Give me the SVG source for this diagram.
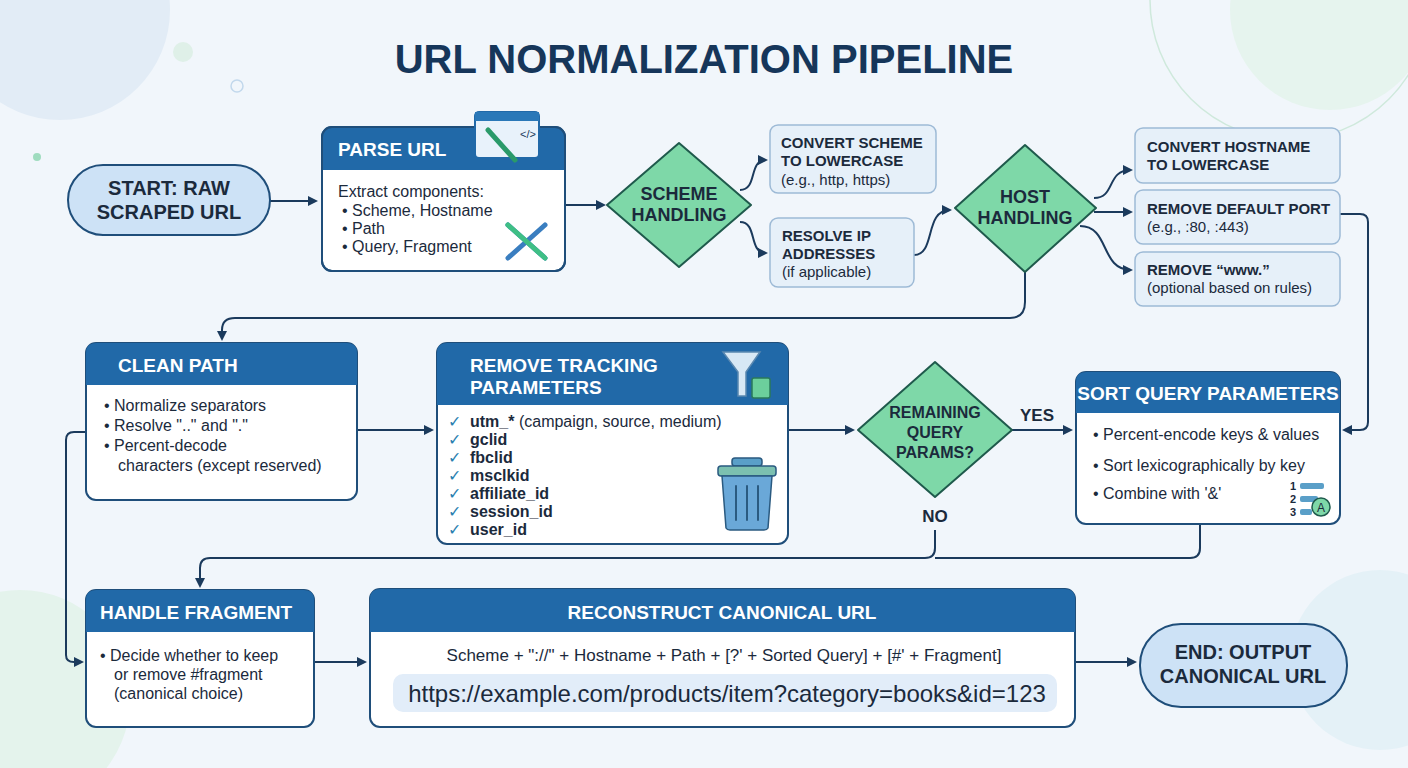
<svg xmlns="http://www.w3.org/2000/svg" width="1408" height="768" viewBox="0 0 1408 768">
<defs>
<marker id="ah" markerWidth="10" markerHeight="10" refX="8" refY="5" orient="auto" markerUnits="userSpaceOnUse"><path d="M0,0 L10,5 L0,10 Z" fill="#1b3a5c"/></marker>
<style>
text{font-family:"Liberation Sans",Arial,sans-serif;fill:#1b2a3c}
.b{font-weight:bold}
.hd{font-weight:bold;fill:#fff;font-size:19px}
.bd{font-size:16px}
.card{fill:#fff;stroke:#1f4e7a;stroke-width:2}
.head{fill:#2169a8}
.sub{fill:#e6f0f9;stroke:#9dbad6;stroke-width:1.5}
.dia{fill:#7ed8a8;stroke:#1f5a4c;stroke-width:2}
.pill{fill:#cde2f6;stroke:#1f4e7a;stroke-width:2}
.c{fill:none;stroke:#1b3a5c;stroke-width:2}
.ck{fill:#2a7fb0;font-size:16px}
.t{font-weight:bold;font-size:15px;fill:#1b2a3c}
</style>
</defs>
<rect width="1408" height="768" fill="#f1f6fb"/>
<circle cx="60" cy="10" r="110" fill="#e2ecf6"/>
<circle cx="1330" cy="10" r="100" fill="#e6f4ee"/>
<circle cx="1290" cy="0" r="140" fill="none" stroke="#cfe9dc" stroke-width="1.5"/>
<circle cx="20" cy="700" r="110" fill="#e4f3ec"/>
<circle cx="1380" cy="660" r="90" fill="#e4f1f7"/>
<circle cx="183" cy="52" r="10" fill="#dff0e8"/>
<circle cx="237" cy="86" r="6" fill="none" stroke="#c2d8ec" stroke-width="1.5"/>
<circle cx="37" cy="157" r="4" fill="#9fdcbf"/>
<text x="704" y="73" text-anchor="middle" class="b" font-size="40" style="fill:#16365a">URL NORMALIZATION PIPELINE</text>

<g id="connectors">
<path class="c" d="M270,201 H316" marker-end="url(#ah)"/>
<path class="c" d="M565,205 H604" marker-end="url(#ah)"/>
<path class="c" d="M740,190 C758,190 748,160 766,160" marker-end="url(#ah)"/>
<path class="c" d="M740,222 C758,222 748,253 766,253" marker-end="url(#ah)"/>
<path class="c" d="M914,255 C936,255 924,210 950,210" marker-end="url(#ah)"/>
<path class="c" d="M1094,198 C1116,198 1106,170 1131,170" marker-end="url(#ah)"/>
<path class="c" d="M1094,212 H1131" marker-end="url(#ah)"/>
<path class="c" d="M1080,226 C1110,226 1100,270 1131,270" marker-end="url(#ah)"/>
<path class="c" d="M1340,214 H1360 Q1368,214 1368,222 V422 Q1368,430 1360,430 H1344" marker-end="url(#ah)"/>
<path class="c" d="M1025,272 V302 Q1025,318 1010,318 H235 Q222,318 222,330 V339" marker-end="url(#ah)"/>
<path class="c" d="M86,432 H74 Q66,432 66,440 V655 Q66,662 74,662 H82" marker-end="url(#ah)"/>
<path class="c" d="M357,430 H432" marker-end="url(#ah)"/>
<path class="c" d="M788,430 H853" marker-end="url(#ah)"/>
<path class="c" d="M1012,430 H1071" marker-end="url(#ah)"/>
<path class="c" d="M935,530 V548 Q935,558 925,558 H210 Q200,558 200,568 V586" marker-end="url(#ah)"/>
<path class="c" d="M1200,524 V548 Q1200,558 1190,558 H935"/>
<path class="c" d="M314,662 H365" marker-end="url(#ah)"/>
<path class="c" d="M1075,662 H1135" marker-end="url(#ah)"/>
<text x="1037" y="421" class="b" font-size="17" text-anchor="middle">YES</text>
<text x="935" y="522" class="b" font-size="17" text-anchor="middle">NO</text>
</g>

<g id="start">
<rect x="68" y="165" width="202" height="70" rx="35" class="pill"/>
<text x="169" y="195" text-anchor="middle" class="b" font-size="20">START: RAW</text>
<text x="169" y="219" text-anchor="middle" class="b" font-size="20">SCRAPED URL</text>
</g>

<g id="parse">
<rect x="322" y="127" width="243" height="144" rx="10" class="card"/>
<path d="M322,170 V137 Q322,127 332,127 H555 Q565,127 565,137 V170 Z" class="head"/>
<rect x="322" y="127" width="243" height="144" rx="10" fill="none" stroke="#1f4e7a" stroke-width="2"/>
<text x="338" y="156" class="hd">PARSE URL</text>
<text x="338" y="197" class="bd">Extract components:</text>
<text x="342" y="216" class="bd">• Scheme, Hostname</text>
<text x="342" y="234" class="bd">• Path</text>
<text x="342" y="252" class="bd">• Query, Fragment</text>
<rect x="475" y="112" width="64" height="46" rx="4" fill="#e8f2fb" stroke="#2169a8" stroke-width="2"/>
<rect x="475" y="112" width="64" height="9" fill="#2a78b8"/>
<text x="520" y="138" font-size="11" style="fill:#1b3a5c">&lt;/&gt;</text>
<path d="M488,130 L515,160" stroke="#2a9a6a" stroke-width="5" stroke-linecap="round"/>
<path d="M508,225 L545,258 M545,225 L508,258" stroke="#3a7ec0" stroke-width="5" stroke-linecap="round"/>
<path d="M508,225 L545,258" stroke="#3fbf85" stroke-width="5" stroke-linecap="round"/>
</g>

<g id="scheme">
<path d="M679,143 L751,205 L679,267 L607,205 Z" class="dia" stroke-linejoin="round"/>
<text x="679" y="200" text-anchor="middle" class="b" font-size="18">SCHEME</text>
<text x="679" y="221" text-anchor="middle" class="b" font-size="18">HANDLING</text>
</g>

<g id="convert-scheme">
<rect x="770" y="125" width="166" height="68" rx="8" class="sub"/>
<text x="781" y="148" class="t">CONVERT SCHEME</text>
<text x="781" y="166" class="t">TO LOWERCASE</text>
<text x="781" y="185" font-size="15">(e.g., http, https)</text>
</g>

<g id="resolve-ip">
<rect x="770" y="218" width="144" height="69" rx="8" class="sub"/>
<text x="782" y="241" class="t">RESOLVE IP</text>
<text x="782" y="259" class="t">ADDRESSES</text>
<text x="782" y="277" font-size="15">(if applicable)</text>
</g>

<g id="host">
<path d="M1025,145 L1096,208 L1025,272 L955,208 Z" class="dia" stroke-linejoin="round"/>
<text x="1025" y="203" text-anchor="middle" class="b" font-size="18">HOST</text>
<text x="1025" y="224" text-anchor="middle" class="b" font-size="18">HANDLING</text>
</g>

<g id="convert-host">
<rect x="1135" y="128" width="205" height="55" rx="8" class="sub"/>
<text x="1147" y="152" class="t">CONVERT HOSTNAME</text>
<text x="1147" y="170" class="t">TO LOWERCASE</text>
</g>
<g id="remove-port">
<rect x="1135" y="190" width="205" height="54" rx="8" class="sub"/>
<text x="1147" y="214" class="t">REMOVE DEFAULT PORT</text>
<text x="1147" y="232" font-size="15">(e.g., :80, :443)</text>
</g>
<g id="remove-www">
<rect x="1135" y="252" width="205" height="54" rx="8" class="sub"/>
<text x="1147" y="275" class="t">REMOVE “www.”</text>
<text x="1147" y="293" font-size="15">(optional based on rules)</text>
</g>

<g id="clean-path">
<rect x="86" y="343" width="271" height="157" rx="10" class="card"/>
<path d="M86,385 V353 Q86,343 96,343 H347 Q357,343 357,353 V385 Z" class="head"/>
<text x="118" y="372" class="hd">CLEAN PATH</text>
<text x="104" y="411" class="bd">• Normalize separators</text>
<text x="104" y="431" class="bd">• Resolve ".." and "."</text>
<text x="104" y="451" class="bd">• Percent-decode</text>
<text x="118" y="471" class="bd">characters (except reserved)</text>
</g>

<g id="remove-tracking">
<rect x="437" y="343" width="351" height="201" rx="10" class="card"/>
<path d="M437,405 V353 Q437,343 447,343 H778 Q788,343 788,353 V405 Z" class="head"/>
<text x="470" y="372" class="hd">REMOVE TRACKING</text>
<text x="470" y="394" class="hd">PARAMETERS</text>
<path d="M723,352 H760 L746,372 V396 L738,396 V372 Z" fill="#d7e8f5" stroke="#5a88b0" stroke-width="1.5"/>
<rect x="752" y="378" width="18" height="20" rx="2" fill="#6ccf9c" stroke="#2a7a5a" stroke-width="1.5"/>
<text x="448" y="427" class="ck">✓</text><text x="470" y="427" class="bd"><tspan font-weight="bold">utm_*</tspan> (campaign, source, medium)</text>
<text x="448" y="445" class="ck">✓</text><text x="470" y="445" class="bd b">gclid</text>
<text x="448" y="463" class="ck">✓</text><text x="470" y="463" class="bd b">fbclid</text>
<text x="448" y="481" class="ck">✓</text><text x="470" y="481" class="bd b">msclkid</text>
<text x="448" y="499" class="ck">✓</text><text x="470" y="499" class="bd b">affiliate_id</text>
<text x="448" y="517" class="ck">✓</text><text x="470" y="517" class="bd b">session_id</text>
<text x="448" y="535" class="ck">✓</text><text x="470" y="535" class="bd b">user_id</text>
<rect x="732" y="458" width="30" height="8" rx="3" fill="#5a9fc8" stroke="#2a5a80" stroke-width="1.5"/>
<rect x="718" y="466" width="58" height="10" rx="3" fill="#7cc0b0" stroke="#2a5a80" stroke-width="1.5"/>
<path d="M722,476 L726,528 Q727,530 730,530 H764 Q767,530 768,528 L772,476 Z" fill="#6aa8d8" stroke="#2a5a80" stroke-width="1.5"/>
<path d="M736,486 V520 M747,486 V520 M758,486 V520" stroke="#2a5a80" stroke-width="2" stroke-linecap="round"/>
</g>

<g id="remaining">
<path d="M935,362 L1012,430 L935,497 L858,430 Z" class="dia" stroke-linejoin="round"/>
<text x="935" y="418" text-anchor="middle" class="b" font-size="16">REMAINING</text>
<text x="935" y="438" text-anchor="middle" class="b" font-size="16">QUERY</text>
<text x="935" y="458" text-anchor="middle" class="b" font-size="16">PARAMS?</text>
</g>

<g id="sort">
<rect x="1076" y="372" width="264" height="152" rx="10" class="card"/>
<path d="M1076,413 V382 Q1076,372 1086,372 H1330 Q1340,372 1340,382 V413 Z" class="head"/>
<text x="1208" y="400" text-anchor="middle" class="hd" font-size="18">SORT QUERY PARAMETERS</text>
<text x="1093" y="440" class="bd">• Percent-encode keys &amp; values</text>
<text x="1093" y="471" class="bd">• Sort lexicographically by key</text>
<text x="1093" y="499" class="bd">• Combine with '&amp;'</text>
<text x="1290" y="490" font-size="11" class="b">1</text><rect x="1300" y="483" width="24" height="6" rx="2" fill="#5a9fc8"/>
<text x="1290" y="503" font-size="11" class="b">2</text><rect x="1300" y="496" width="18" height="6" rx="2" fill="#5a9fc8"/>
<text x="1290" y="516" font-size="11" class="b">3</text><rect x="1300" y="509" width="12" height="6" rx="2" fill="#5a9fc8"/>
<circle cx="1321" cy="507" r="9" fill="#7ed8a8" stroke="#1f5a4c" stroke-width="1.5"/>
<text x="1321" y="512" text-anchor="middle" font-size="12">A</text>
</g>

<g id="fragment">
<rect x="86" y="590" width="228" height="137" rx="10" class="card"/>
<path d="M86,632 V600 Q86,590 96,590 H304 Q314,590 314,600 V632 Z" class="head"/>
<text x="100" y="619" class="hd">HANDLE FRAGMENT</text>
<text x="100" y="661" class="bd">• Decide whether to keep</text>
<text x="114" y="680" class="bd">or remove #fragment</text>
<text x="114" y="699" class="bd">(canonical choice)</text>
</g>

<g id="reconstruct">
<rect x="370" y="589" width="705" height="138" rx="10" class="card"/>
<path d="M370,632 V599 Q370,589 380,589 H1065 Q1075,589 1075,599 V632 Z" class="head"/>
<text x="722" y="619" text-anchor="middle" class="hd">RECONSTRUCT CANONICAL URL</text>
<text x="724" y="661" text-anchor="middle" font-size="17">Scheme + "://" + Hostname + Path + [?' + Sorted Query] + [#' + Fragment]</text>
<rect x="393" y="674" width="664" height="38" rx="10" fill="#e2edf9"/>
<text x="727" y="702" text-anchor="middle" font-size="24">https://example.com/products/item?category=books&amp;id=123</text>
</g>

<g id="end">
<rect x="1140" y="624" width="207" height="83" rx="41" class="pill"/>
<text x="1243" y="659" text-anchor="middle" class="b" font-size="20">END: OUTPUT</text>
<text x="1243" y="683" text-anchor="middle" class="b" font-size="20">CANONICAL URL</text>
</g>
</svg>
